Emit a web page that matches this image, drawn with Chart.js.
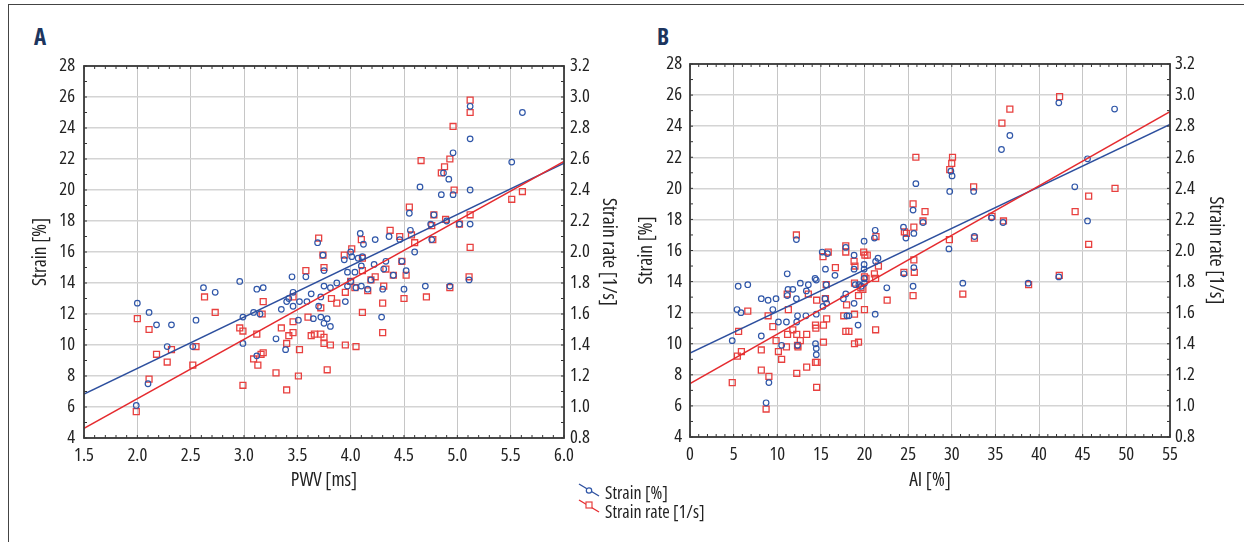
<!DOCTYPE html>
<html>
<head>
<meta charset="utf-8">
<script src="https://cdn.jsdelivr.net/npm/chart.js@4.4.0/dist/chart.umd.min.js"></script>
<style>
  body { margin: 0; background: #fff; width: 1244px; height: 542px; overflow: hidden; position: relative; }
  .frame { position: absolute; left: 8px; top: 4px; width: 1300px; height: 600px; border-top: 1px solid #444; border-left: 1px solid #444; }
  canvas { position: absolute; top: 0; }
  #chartA { left: 0; }
  #chartB { left: 620px; }
  .panel { position: absolute; top: 25px; font: bold 23px 'Open Sans', sans-serif; font-stretch: 87.5%; line-height: 23px; color: #1c355e; }
  .leg { position: absolute; left: 605px; font-family: 'Open Sans', sans-serif; font-stretch: 75%; font-weight: 500; font-size: 18px; line-height: 19px; color: #222; white-space: nowrap; }
</style>
</head>
<body>
<div class="frame"></div>
<div class="panel" style="left:34px">A</div>
<div class="panel" style="left:657px">B</div>
<canvas id="chartA" width="620" height="500"></canvas>
<canvas id="chartB" width="624" height="500"></canvas>
<svg style="position:absolute;left:576px;top:480px" width="28" height="36">
  <line x1="3" y1="4" x2="23" y2="16" stroke="#2d4f9e" stroke-width="1.4"/>
  <circle cx="13" cy="10.5" r="2.7" fill="#fff" stroke="#2f56a8" stroke-width="1.2"/>
  <line x1="3" y1="20" x2="23" y2="32" stroke="#e52b2f" stroke-width="1.4"/>
  <rect x="10" y="22" width="6" height="6" fill="#fff" stroke="#e8403f" stroke-width="1.2"/>
</svg>
<div class="leg" style="top:483px">Strain [%]</div>
<div class="leg" style="top:502px">Strain rate [1/s]</div>
<script>
// --- data: [x, y] pairs ---
// panel A: PWV [ms] vs strain [%] and strain rate [1/s]
const pwvStrain = [
  [2.0,12.7],[2.11,12.1],[2.18,11.3],[2.32,11.3],[2.28,9.9],[2.10,7.5],[1.99,6.1],[2.55,11.6],[2.62,13.7],[2.73,13.4],
  [2.52,9.9],[2.96,14.1],[2.99,11.8],[2.99,10.1],[3.09,12.1],[3.12,13.6],[3.18,13.7],[3.15,12.0],[3.12,9.3],[3.30,10.4],
  [3.35,12.3],[3.39,9.7],[3.40,12.8],[3.42,13.0],[3.45,14.4],[3.46,13.4],[3.46,12.5],[3.51,11.6],[3.52,12.8],[3.58,14.4],
  [3.59,12.8],[3.63,13.3],[3.65,11.7],[3.69,16.6],[3.70,12.5],[3.72,13.1],[3.72,11.8],[3.74,15.8],[3.75,14.8],[3.75,13.8],
  [3.75,11.4],[3.78,11.7],[3.81,11.2],[3.81,13.7],[3.87,14.0],[3.94,15.5],[3.95,12.8],[3.97,14.7],[3.97,13.8],[4.0,16.0],
  [4.01,15.7],[4.0,14.1],[4.04,14.7],[4.05,13.7],[4.07,15.6],[4.09,17.2],[4.12,16.5],[4.11,15.7],[4.10,15.1],[4.10,13.8],
  [4.16,13.6],[4.19,14.2],[4.22,15.2],[4.23,16.8],[4.29,11.8],[4.30,13.6],[4.31,14.9],[4.33,15.4],[4.36,17.0],[4.40,14.5],
  [4.46,16.8],[4.48,15.4],[4.50,13.6],[4.52,14.8],[4.55,18.5],[4.56,17.4],[4.60,16.0],[4.65,20.2],[4.70,13.8],[4.75,17.8],
  [4.76,16.8],[4.78,18.4],[4.85,19.7],[4.87,21.1],[4.90,18.0],[4.92,20.7],[4.93,13.8],[4.96,22.4],[4.96,19.7],[5.02,17.8],
  [5.12,25.4],[5.12,23.3],[5.12,20.0],[5.12,17.8],[5.11,14.2],[5.51,21.8],[5.61,25.0]
];
const pwvRate = [
  [2.0,1.57],[1.99,0.97],[2.11,1.50],[2.18,1.34],[2.11,1.18],[2.28,1.29],[2.32,1.37],[2.52,1.27],[2.55,1.39],[2.63,1.71],
  [2.73,1.61],[2.96,1.51],[2.99,1.49],[2.99,1.14],[3.12,1.47],[3.09,1.31],[3.13,1.27],[3.16,1.34],[3.18,1.35],[3.18,1.68],
  [3.17,1.60],[3.30,1.22],[3.35,1.51],[3.40,1.11],[3.40,1.41],[3.42,1.46],[3.46,1.55],[3.46,1.48],[3.46,1.71],[3.51,1.20],
  [3.52,1.37],[3.58,1.88],[3.60,1.58],[3.63,1.46],[3.66,1.47],[3.70,2.09],[3.72,1.64],[3.72,1.47],[3.74,1.98],[3.75,1.90],
  [3.75,1.45],[3.75,1.41],[3.78,1.24],[3.81,1.40],[3.82,1.70],[3.87,1.67],[3.94,1.98],[3.95,1.74],[3.95,1.40],[4.0,1.81],
  [4.01,2.02],[4.04,1.77],[4.05,1.39],[4.10,2.08],[4.11,1.88],[4.11,1.96],[4.11,1.61],[4.16,1.75],[4.19,1.82],[4.23,1.84],
  [4.30,1.67],[4.30,1.48],[4.31,1.78],[4.33,1.89],[4.37,2.14],[4.40,1.85],[4.46,2.10],[4.48,1.94],[4.50,1.70],[4.52,1.85],
  [4.55,2.29],[4.57,2.11],[4.60,2.06],[4.66,2.59],[4.71,1.71],[4.76,2.17],[4.77,2.08],[4.78,2.24],[4.85,2.51],[4.88,2.55],
  [4.89,2.21],[4.93,2.60],[4.93,1.77],[4.96,2.81],[4.97,2.40],[5.02,2.18],[5.12,2.98],[5.12,2.90],[5.12,2.24],[5.12,2.03],
  [5.11,1.84],[5.51,2.34],[5.61,2.39]
];
// panel B: AI [%] vs strain [%] and strain rate [1/s]
const aiStrain = [
  [4.84,10.2],[5.39,12.2],[5.84,12.0],[5.52,13.7],[6.62,13.8],[8.17,12.9],[8.17,10.5],[8.95,12.8],[8.72,6.2],[9.04,7.5],
  [9.49,12.2],[9.86,12.9],[10.13,11.4],[10.5,9.9],[11.05,11.4],[11.14,14.5],[11.14,13.1],[11.23,13.5],[11.78,13.5],[12.19,12.9],
  [12.19,16.7],[12.23,11.4],[12.32,11.8],[12.32,9.9],[12.64,13.9],[13.28,11.8],[13.33,13.4],[13.56,13.8],[14.33,14.2],[14.38,10.0],
  [14.47,9.7],[14.47,9.3],[14.47,11.9],[14.47,14.1],[15.15,15.9],[15.24,12.4],[15.47,12.9],[15.52,14.8],[15.61,13.8],[15.66,12.6],
  [15.75,15.8],[16.61,14.4],[17.57,12.9],[17.85,13.2],[17.85,16.2],[17.98,11.8],[18.21,11.8],[18.8,12.6],[18.8,14.8],[18.8,15.7],
  [18.94,13.8],[19.26,11.2],[19.35,13.8],[19.63,13.7],[19.95,16.6],[19.95,15.1],[19.95,14.8],[19.95,14.2],[19.99,13.9],[21.22,17.3],
  [21.13,16.8],[21.22,11.9],[21.27,15.3],[21.54,15.5],[22.55,13.6],[24.46,17.5],[24.51,14.5],[24.74,16.8],[25.56,18.6],[25.56,13.7],
  [25.65,17.1],[25.65,14.9],[25.88,20.3],[26.7,17.8],[29.67,16.1],[29.76,19.8],[29.89,21.1],[30.03,20.8],[31.26,13.9],[32.5,19.8],
  [32.59,16.9],[34.55,18.1],[35.69,22.5],[35.87,17.8],[36.65,23.4],[38.75,13.9],[42.26,25.5],[42.26,14.3],[44.09,20.1],[45.55,21.9],
  [45.55,17.9],[48.65,25.1]
];
const aiRate = [
  [4.84,1.15],[5.43,1.32],[5.57,1.48],[5.89,1.35],[6.62,1.61],[8.17,1.36],[8.17,1.23],[8.72,0.98],[9.04,1.19],[8.95,1.58],
  [9.49,1.51],[9.86,1.42],[10.13,1.35],[10.5,1.30],[11.14,1.72],[11.18,1.46],[11.05,1.38],[11.27,1.62],[11.78,1.49],[12.19,2.10],
  [12.23,1.46],[12.23,1.21],[12.32,1.39],[12.37,1.38],[12.64,1.42],[13.37,1.46],[13.37,1.25],[13.56,1.72],[14.38,1.52],[14.42,1.50],
  [14.38,1.28],[14.56,1.28],[14.51,1.12],[14.51,1.68],[15.24,1.96],[15.29,1.52],[15.29,1.41],[15.52,1.69],[15.61,1.78],[15.66,1.56],
  [15.84,1.99],[16.66,1.89],[17.62,1.58],[17.85,2.03],[17.85,1.99],[17.94,1.65],[17.85,1.48],[18.21,1.48],[18.8,1.93],[18.9,1.90],
  [18.85,1.79],[18.85,1.59],[18.85,1.40],[19.31,1.41],[19.31,1.71],[19.58,1.76],[19.81,1.75],[19.9,1.99],[20.04,1.97],[19.99,1.83],
  [19.99,1.62],[20.17,1.82],[20.31,1.97],[21.13,1.85],[21.27,1.82],[21.27,1.49],[21.31,2.09],[21.59,1.90],[22.59,1.68],[24.51,1.86],
  [24.56,2.12],[24.79,2.11],[25.56,2.30],[25.65,2.15],[25.65,1.94],[25.7,1.86],[25.56,1.71],[25.88,2.60],[26.7,2.19],[26.93,2.25],
  [29.72,2.07],[29.76,2.52],[29.99,2.56],[30.08,2.60],[31.26,1.72],[32.5,2.41],[32.59,2.08],[34.6,2.22],[35.74,2.82],[35.92,2.19],
  [36.65,2.91],[38.8,1.78],[42.35,2.99],[42.31,1.84],[44.13,2.25],[45.68,2.35],[45.68,2.04],[48.7,2.40]
];
// fitted regression lines (end points at the axis limits)
const fitA_strain = [[1.5, 6.84], [6.0, 21.73]];
const fitA_rate = [[1.5, 0.862], [6.0, 2.584]];
const fitB_strain = [[0, 9.40], [55, 24.11]];
const fitB_rate = [[0, 1.144], [55, 2.893]];

const BLUE = '#2f56a8', BLUE_LINE = '#2d4f9e';
const RED = '#e8403f', RED_LINE = '#e52b2f';
// Open Sans is variable; "condensed" in the font string picks its narrow width
const FONT = "'Open Sans', sans-serif";
const WEIGHT = '500 condensed';

const toXY = arr => arr.map(p => ({ x: p[0], y: p[1] }));

// frame + small inward tick marks on all four sides
const frameTicks = {
  id: 'frameTicks',
  afterDraw(chart, args, o) {
    const ctx = chart.ctx, a = chart.chartArea;
    const sx = chart.scales.x, sy = chart.scales.y, sy2 = chart.scales.y2;
    ctx.save();
    ctx.strokeStyle = '#333';
    ctx.lineWidth = 1;
    function marks(scale, step, fn) {
      const n = Math.round((scale.max - scale.min) / step);
      for (let i = 0; i <= n; i++) fn(scale.getPixelForValue(scale.min + i * step));
    }
    ctx.beginPath();
    marks(sx, o.xStep, px => {
      ctx.moveTo(px, a.bottom); ctx.lineTo(px, a.bottom - 3);
      ctx.moveTo(px, a.top); ctx.lineTo(px, a.top + 3);
    });
    marks(sy, 1, py => { ctx.moveTo(a.left, py); ctx.lineTo(a.left + 3, py); });
    marks(sy2, 0.1, py => { ctx.moveTo(a.right, py); ctx.lineTo(a.right - 3, py); });
    ctx.stroke();
    ctx.lineWidth = 1.8;
    ctx.strokeStyle = '#3a3a3a';
    ctx.strokeRect(a.left, a.top, a.right - a.left, a.bottom - a.top);
    ctx.restore();
  }
};

function makeChart(id, cfg) {
  const tickFont = { family: FONT, weight: WEIGHT, size: 18.5 };
  const titleFont = { family: FONT, weight: WEIGHT, size: 19.5 };
  return new Chart(document.getElementById(id), {
    type: 'scatter',
    data: {
      datasets: [
        { data: toXY(cfg.strain), yAxisID: 'y', pointStyle: 'circle', pointRadius: 2.8, pointBorderWidth: 1.2,
          borderColor: BLUE, backgroundColor: 'rgba(255,255,255,0)', order: 3 },
        { data: toXY(cfg.rate), yAxisID: 'y2', pointStyle: 'rect', pointRadius: 4.2, pointBorderWidth: 1.3,
          borderColor: RED, backgroundColor: 'rgba(255,255,255,0)', order: 4 },
        { type: 'line', data: toXY(cfg.fitStrain), yAxisID: 'y', borderColor: BLUE_LINE, borderWidth: 1.5,
          pointRadius: 0, fill: false, order: 2 },
        { type: 'line', data: toXY(cfg.fitRate), yAxisID: 'y2', borderColor: RED_LINE, borderWidth: 1.5,
          pointRadius: 0, fill: false, order: 1 }
      ]
    },
    options: {
      responsive: false,
      animation: false,
      devicePixelRatio: 1,
      layout: { autoPadding: false, padding: { top: cfg.top, left: 0, right: 0, bottom: 0 } },
      plugins: { legend: { display: false }, tooltip: { enabled: false }, frameTicks: { xStep: cfg.xMinor } },
      scales: {
        x: {
          type: 'linear', min: cfg.xMin, max: cfg.xMax,
          ticks: { stepSize: cfg.xStep, font: tickFont, color: '#222', padding: 7, callback: cfg.xFmt },
          grid: { color: '#c6c6c6', lineWidth: 1, drawTicks: false },
          border: { display: false },
          title: { display: true, text: cfg.xTitle, font: titleFont, color: '#222', padding: { top: 0, bottom: 8 } },
          afterFit: s => { s.height = cfg.xH; }
        },
        y: {
          position: 'left', min: 4, max: 28,
          ticks: { stepSize: 2, font: tickFont, color: '#222', padding: cfg.yPad },
          grid: { color: '#d4d4d4', lineWidth: 1.5, drawTicks: false },
          border: { display: false },
          title: { display: true, text: 'Strain [%]', font: titleFont, color: '#222', padding: { top: cfg.yTitlePad, bottom: 0 } },
          afterFit: s => { s.width = cfg.yW; }
        },
        y2: {
          position: 'right', min: 0.8, max: 3.2,
          ticks: { stepSize: 0.2, font: tickFont, color: '#222', padding: cfg.y2Pad, callback: v => v.toFixed(1) },
          grid: { display: false, drawTicks: false },
          border: { display: false },
          title: { display: true, text: 'Strain rate [1/s]', font: titleFont, color: '#222', padding: { top: cfg.y2TitlePad, bottom: 0 } },
          afterFit: s => { s.width = cfg.y2W; }
        }
      }
    },
    plugins: [frameTicks]
  });
}

makeChart('chartA', {
  strain: pwvStrain, rate: pwvRate, fitStrain: fitA_strain, fitRate: fitA_rate,
  xMin: 1.5, xMax: 6.0, xStep: 0.5, xMinor: 0.1, xFmt: v => v.toFixed(1), xTitle: 'PWV [ms]',
  top: 66, xH: 62, yW: 84, y2W: 56, yPad: 9, y2Pad: 6, yTitlePad: 29, y2TitlePad: 0
});
makeChart('chartB', {
  strain: aiStrain, rate: aiRate, fitStrain: fitB_strain, fitRate: fitB_rate,
  xMin: 0, xMax: 55, xStep: 5, xMinor: 1, xFmt: v => v, xTitle: 'AI [%]',
  top: 64, xH: 63, yW: 70, y2W: 74, yPad: 8, y2Pad: 5, yTitlePad: 15, y2TitlePad: 17
});
</script>
</body>
</html>
